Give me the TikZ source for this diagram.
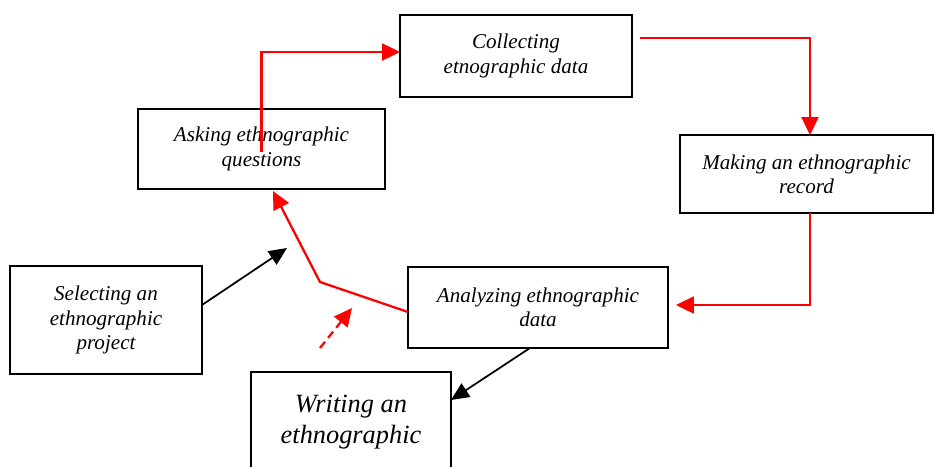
\documentclass[tikz,border=0pt]{standalone}
\usepackage{fontspec}
\setmainfont{Liberation Serif}
\usetikzlibrary{arrows.meta}
\begin{document}
\begin{tikzpicture}
[x=0.02cm, y=-0.02cm,
  boxdecorate/.style={shape=rectangle,draw,line width=1.1pt,inner sep=0pt,
    outer sep=0pt,align=center,font=\itshape\fontsize{12}{13.8}\selectfont},%
  redline/.style={draw=red,line width=1.3pt,-{Triangle[length=0.36cm,width=0.34cm]}},%
  blackline/.style={draw=black,line width=1pt,-{Triangle[length=0.36cm,width=0.32cm]}}]
\useasboundingbox (0,0) rectangle (934,467);
%% boxes
\foreach \nodename/\x/\y/\w/\h/\txt in {
  collect/516/56/4.64/1.64/{Collecting\\etnographic data},
  ask/261.5/149/4.94/1.6/{Asking ethnographic\\questions},
  make/806.5/174/5.06/1.56/{Making an ethnographic\\record},
  select/106/320/3.84/2.16/{Selecting an\\ethnographic\\project},
  analyze/538/307.5/5.2/1.62/{Analyzing ethnographic\\data}}
{
  \node (\nodename) at (\x,\y) [boxdecorate,minimum width=\w cm,minimum height=\h cm] {\txt};
}
\node (write) at (351,422) [boxdecorate,minimum width=4cm,minimum height=2cm,
  font=\itshape\fontsize{15}{18}\selectfont] {Writing an\\ethnographic};
%% free ends and bends
\coordinate (cstart) at (640,38);
\coordinate (bend) at (320,282);
\coordinate (atip) at (273,191);
\coordinate (dstart) at (320,348);
\coordinate (dend) at (352,308);
\coordinate (stip) at (287,248);
%% connectors
\draw[redline] ([yshift=-0.06cm]ask.center) |- ([yshift=0.08cm]collect.west);
\draw[redline] (cstart) -| ([xshift=0.07cm]make.north);
\draw[redline] ([xshift=0.07cm]make.south) |- ([xshift=0.16cm,yshift=0.05cm]analyze.east);
\draw[redline] ([yshift=-0.09cm]analyze.west) -- (bend) -- (atip);
\draw[redline,dash pattern=on 0.16cm off 0.1cm] (dstart) -- (dend);
\draw[blackline] ([yshift=0.3cm]select.east) -- (stip);
\draw[blackline] ([xshift=-0.16cm]analyze.south) -- ([yshift=0.44cm]write.east);
\end{tikzpicture}
\end{document}
